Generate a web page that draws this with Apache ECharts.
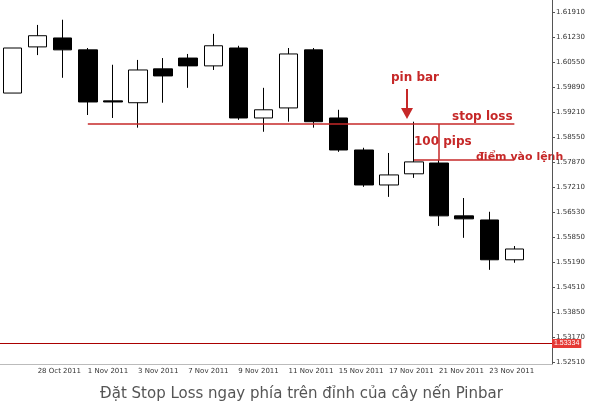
<!DOCTYPE html>
<html>
<head>
<meta charset="utf-8">
<script src="https://cdn.jsdelivr.net/npm/echarts@6/dist/echarts.min.js"></script>
<style>html,body{margin:0;padding:0;background:#fff}#chart{width:603px;height:411px}</style>
</head>
<body>
<div id="chart"></div>
<script>
var dates = ['27 Oct 2011', '28 Oct 2011', '31 Oct 2011', '1 Nov 2011', '2 Nov 2011', '3 Nov 2011', '4 Nov 2011',
    '7 Nov 2011', '8 Nov 2011', '9 Nov 2011', '10 Nov 2011', '11 Nov 2011', '14 Nov 2011', '15 Nov 2011',
    '16 Nov 2011', '17 Nov 2011', '18 Nov 2011', '21 Nov 2011', '22 Nov 2011', '23 Nov 2011', '24 Nov 2011', ''];
// open, close, low, high
var ohlc = [
    [1.5973, 1.6094, 1.5973, 1.6094],
    [1.6097, 1.6127, 1.6075, 1.6156],
    [1.6121, 1.6089, 1.6014, 1.6170],
    [1.6089, 1.5949, 1.5914, 1.6094],
    [1.5952, 1.5949, 1.5906, 1.6049],
    [1.5947, 1.6035, 1.5880, 1.6062],
    [1.6038, 1.6019, 1.5947, 1.6067],
    [1.6067, 1.6046, 1.5987, 1.6078],
    [1.6046, 1.6100, 1.6035, 1.6132],
    [1.6094, 1.5906, 1.5901, 1.6100],
    [1.5906, 1.5928, 1.5869, 1.5987],
    [1.5933, 1.6078, 1.5896, 1.6094],
    [1.6089, 1.5896, 1.5880, 1.6094],
    [1.5906, 1.5820, 1.5815, 1.5928],
    [1.5820, 1.5726, 1.5721, 1.5826],
    [1.5726, 1.5753, 1.5694, 1.5812],
    [1.5756, 1.5788, 1.5745, 1.5896],
    [1.5785, 1.5643, 1.5616, 1.5793],
    [1.5643, 1.5635, 1.5584, 1.5691],
    [1.5632, 1.5525, 1.5498, 1.5654],
    [1.5525, 1.5554, 1.5517, 1.5562]
];
var priceTicks = [1.61910, 1.61230, 1.60550, 1.59890, 1.59210, 1.58550, 1.57870, 1.57210,
    1.56530, 1.55850, 1.55190, 1.54510, 1.53850, 1.53170, 1.52510];
var stopLoss = 1.5890;
var entry = 1.5794;
var lastPrice = 1.55523;
var redLevel = 1.53334;

var red = '#c62828';
var solidRed = { color: red, width: 1.5, type: 'solid' };
var myChart = echarts.init(document.getElementById('chart'));
var option = {
    backgroundColor: '#fff',
    animation: false,
    title: {
        text: 'Đặt Stop Loss ngay phía trên đỉnh của cây nến Pinbar',
        left: 'center',
        top: 382,
        textStyle: { fontSize: 15, fontWeight: 'normal', color: '#555', fontFamily: 'DejaVu Sans' }
    },
    grid: { left: -4, right: 51, top: 0, bottom: 47 },
    xAxis: {
        type: 'category',
        data: dates,
        axisLine: { onZero: false, lineStyle: { color: '#bbb' } },
        axisTick: { interval: function (i) { return i % 2 === 1; }, lineStyle: { color: '#999' }, length: 3 },
        axisLabel: {
            interval: function (i) { return i % 2 === 1 && i < 21; },
            fontSize: 7, color: '#333', align: 'left', margin: 4, fontFamily: 'DejaVu Sans'
        },
        splitLine: { show: false }
    },
    yAxis: {
        type: 'value',
        position: 'right',
        min: 1.5245,
        max: 1.6223,
        axisLine: { show: true, lineStyle: { color: '#555' } },
        axisTick: { show: true, customValues: priceTicks, length: 3 },
        axisLabel: { customValues: priceTicks, fontSize: 7, color: '#333', margin: 4, fontFamily: 'DejaVu Sans',
            formatter: function (v) { return v.toFixed(5); } },
        splitLine: { show: false }
    },
    series: [{
        type: 'candlestick',
        data: ohlc,
        barWidth: 19,
        itemStyle: { color: '#fff', color0: '#000', borderColor: '#000', borderColor0: '#000', borderWidth: 1 },
        markLine: {
            symbol: 'none',
            silent: true,
            label: { show: false },
            data: [
                [{ coord: [3, stopLoss], lineStyle: solidRed }, { coord: [20, stopLoss] }],
                [{ coord: [16, entry], lineStyle: solidRed }, { coord: [20, entry] }],
                [{ coord: [17, stopLoss], lineStyle: solidRed }, { coord: [17, entry] }],
                {
                    yAxis: redLevel, lineStyle: { color: '#a00', width: 1, type: 'solid' },
                    label: { show: true, position: 'end', formatter: '1.53334', backgroundColor: '#e53935', color: '#fff', fontSize: 7, padding: [1, 2], distance: 0 }
                },
                {
                    yAxis: lastPrice, lineStyle: { opacity: 0 },
                    label: { show: true, position: 'end', formatter: '1.55523', backgroundColor: '#000', color: '#fff', fontSize: 7, padding: [1, 2], distance: 0 }
                }
            ]
        }
    }],
    graphic: [
        { type: 'text', left: 391, top: 72, style: { text: 'pin bar', fill: red, font: 'bold 12px DejaVu Sans' } },
        { type: 'line', shape: { x1: 407, y1: 89, x2: 407, y2: 110 }, style: { stroke: red, lineWidth: 2 } },
        { type: 'polygon', shape: { points: [[401, 108], [413, 108], [407, 119]] }, style: { fill: red } },
        { type: 'text', left: 452, top: 111, style: { text: 'stop loss', fill: red, font: 'bold 12px DejaVu Sans' } },
        { type: 'text', left: 414, top: 136, style: { text: '100 pips', fill: red, font: 'bold 12px DejaVu Sans' } },
        { type: 'text', left: 476, top: 152, style: { text: 'điểm vào lệnh', fill: red, font: 'bold 11px DejaVu Sans' } }
    ]
};
myChart.setOption(option);
</script>
</body>
</html>
